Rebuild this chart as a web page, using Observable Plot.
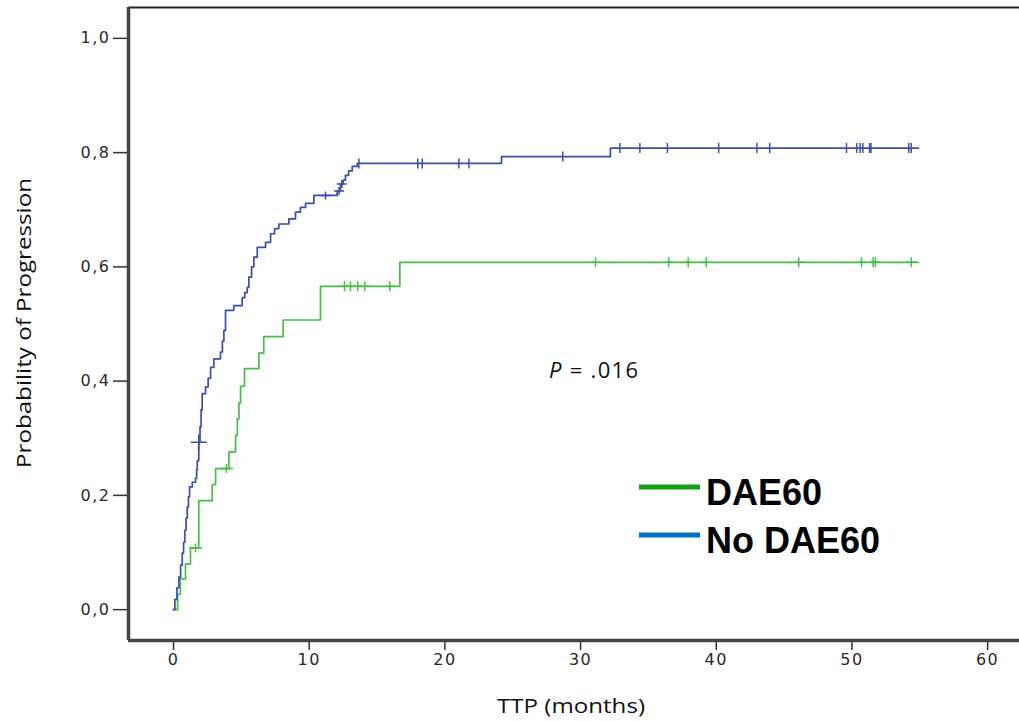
<!DOCTYPE html>
<html><head><meta charset="utf-8">
<script src="https://cdn.jsdelivr.net/npm/d3@7"></script>
<script src="https://cdn.jsdelivr.net/npm/@observablehq/plot@0.6"></script>
<style>
html,body{margin:0;padding:0;background:#fff;}
#wrap{position:relative;width:1019px;height:721px;overflow:hidden;}
#wrap svg{position:absolute;left:0;top:0;}
</style></head>
<body><div id="wrap"></div>
<script>
// ---- data ----
const xTicks = [0, 10, 20, 30, 40, 50, 60];
const yTicks = [0, 0.2, 0.4, 0.6, 0.8, 1.0];
const groups = ["DAE60", "No DAE60"];

// No DAE60 (blue) cumulative probability of progression, step-after
const blueTime = [0, 0.1, 0.25, 0.39, 0.52, 0.64, 0.74, 0.83, 0.92, 1.01, 1.1, 1.18, 1.38, 1.62, 1.7, 1.75, 1.86, 1.95, 2.03, 2.11, 2.36, 2.55, 2.73, 2.97, 3.46, 3.6, 3.71, 3.83, 4.44, 5.06, 5.25, 5.43, 5.55, 5.75, 5.92, 6.17, 6.78, 7.15, 7.45, 7.76, 8.5, 8.99, 9.35, 9.73, 10.34, 12.06, 12.3, 12.5, 12.67, 12.9, 13.17, 13.54, 24.17, 32.2, 54.9];
const blueProb = [0, 0.018, 0.038, 0.057, 0.078, 0.099, 0.118, 0.139, 0.160, 0.180, 0.198, 0.215, 0.223, 0.230, 0.245, 0.261, 0.293, 0.32, 0.35, 0.378, 0.39, 0.405, 0.424, 0.439, 0.451, 0.47, 0.489, 0.524, 0.532, 0.546, 0.555, 0.564, 0.582, 0.600, 0.617, 0.634, 0.643, 0.658, 0.667, 0.675, 0.684, 0.696, 0.704, 0.711, 0.725, 0.733, 0.745, 0.752, 0.760, 0.768, 0.776, 0.781, 0.793, 0.808, 0.808];

// DAE60 (green)
const greenTime = [0, 0.3, 0.5, 0.88, 1.25, 1.86, 2.85, 3.1, 4.08, 4.57, 4.7, 4.82, 4.94, 5.23, 6.29, 6.65, 8.08, 10.83, 16.68, 54.9];
const greenProb = [0, 0.027, 0.054, 0.080, 0.108, 0.191, 0.219, 0.247, 0.276, 0.305, 0.334, 0.362, 0.391, 0.422, 0.449, 0.478, 0.507, 0.566, 0.608, 0.608];

// censored observations
const blueCensorBigTime = [1.86];
const blueCensorBigProb = [0.293];
const blueCensorCrossTime = [11.2, 12.2, 12.4];
const blueCensorCrossProb = [0.725, 0.733, 0.745];
const blueCensorTickTime = [13.66, 18.0, 18.33, 21.03, 21.77, 28.69, 32.9, 34.37, 36.4, 40.18, 43.0, 43.94, 49.6, 50.35, 50.6, 50.8, 51.3, 51.4, 54.19, 54.37];
const blueCensorTickProb = [0.781, 0.781, 0.781, 0.781, 0.781, 0.793, 0.808, 0.808, 0.808, 0.808, 0.808, 0.808, 0.808, 0.808, 0.808, 0.808, 0.808, 0.808, 0.808, 0.808];
const greenCensorEarlyTime = [1.62, 3.9];
const greenCensorEarlyProb = [0.108, 0.247];
const greenCensorTime = [12.6, 13.04, 13.58, 14.1, 15.94, 31.1, 36.5, 37.93, 39.26, 46.08, 50.7, 51.56, 51.73, 54.38];
const greenCensorProb = [0.566, 0.566, 0.566, 0.566, 0.566, 0.608, 0.608, 0.608, 0.608, 0.608, 0.608, 0.608, 0.608, 0.608];

const pText = ".016";

// ---- build tables ----
const rows = (ts, ps, g) => ts.map((t, i) => ({t, p: ps[i], g}));
const blue = rows(blueTime, blueProb, groups[1]);
const green = rows(greenTime, greenProb, groups[0]);

const xDomain = [-3.32, 62.35];
const yDomain = [-0.054, 1.054];

const plusSym = (w, h) => ({draw(ctx) {
  if (w > 0) { ctx.moveTo(-w, 0); ctx.lineTo(w, 0); }
  ctx.moveTo(0, -h); ctx.lineTo(0, h);
}});

const BLUE = "#3b4fab", GREEN = "#48bd4c";
const fmt = d => d.toFixed(1).replace(".", ",");
const tickFont = {fontFamily: "DejaVu Sans", fontSize: 16, fill: "#2a2a2a"};

const chart = Plot.plot({
  width: 1019, height: 721,
  marginLeft: 128, marginRight: 0, marginTop: 7, marginBottom: 81,
  style: {fontFamily: "DejaVu Sans", background: "transparent"},
  x: {domain: xDomain},
  y: {domain: yDomain},
  marks: [
    Plot.axisX({ticks: xTicks, tickSize: 10, tickPadding: 3, label: null, tickFormat: d => String(d), stroke: "#333", strokeWidth: 1.5, ...tickFont}),
    Plot.axisY({ticks: yTicks, tickSize: 15, tickPadding: 3, label: null, tickFormat: fmt, stroke: "#333", strokeWidth: 1.5, ...tickFont}),
    Plot.ruleY([yDomain[1]], {stroke: "#222", strokeWidth: 2}),
    Plot.line(green, {x: "t", y: "p", curve: "step-after", stroke: GREEN, strokeWidth: 1.7}),
    Plot.line(blue, {x: "t", y: "p", curve: "step-after", stroke: BLUE, strokeWidth: 1.7}),
    Plot.dot(rows(greenCensorEarlyTime, greenCensorEarlyProb), {x: "t", y: "p", symbol: plusSym(6.5, 4.5), fill: "none", stroke: GREEN, strokeWidth: 1.5}),
    Plot.dot(rows(greenCensorTime, greenCensorProb), {x: "t", y: "p", symbol: plusSym(4.5, 5), fill: "none", stroke: GREEN, strokeWidth: 1.5}),
    Plot.dot(rows(blueCensorBigTime, blueCensorBigProb), {x: "t", y: "p", symbol: plusSym(8, 8), fill: "none", stroke: BLUE, strokeWidth: 1.5}),
    Plot.dot(rows(blueCensorCrossTime, blueCensorCrossProb), {x: "t", y: "p", symbol: plusSym(5, 4), fill: "none", stroke: BLUE, strokeWidth: 1.5}),
    Plot.dot(rows(blueCensorTickTime, blueCensorTickProb), {x: "t", y: "p", symbol: plusSym(0, 5), fill: "none", stroke: BLUE, strokeWidth: 1.5}),
    Plot.ruleX([xDomain[0]], {stroke: "#444", strokeWidth: 3.5}),
    Plot.ruleY([yDomain[0]], {stroke: "#444", strokeWidth: 3.5})
  ]
});
d3.select(chart).selectAll("text").attr("letter-spacing", "1.5px");
document.getElementById("wrap").appendChild(chart);

// ---- annotations, axis titles, legend ----
const ov = d3.select("#wrap").append("svg").attr("width", 1019).attr("height", 721)
  .style("pointer-events", "none");

ov.append("text").attr("x", 571).attr("y", 713).attr("text-anchor", "middle")
  .attr("font-family", "Open Sans").attr("font-size", 20).attr("fill", "#111")
  .attr("textLength", 148).attr("lengthAdjust", "spacingAndGlyphs")
  .text("TTP (months)");

ov.append("text").attr("transform", "translate(31,323) rotate(-90)").attr("text-anchor", "middle")
  .attr("font-family", "Open Sans").attr("font-size", 20).attr("fill", "#111")
  .attr("textLength", 290).attr("lengthAdjust", "spacingAndGlyphs")
  .text("Probability of Progression");

const pt = ov.append("text").attr("x", 549).attr("y", 378)
  .attr("font-family", "Open Sans").attr("font-size", 22).attr("fill", "#111")
  .attr("textLength", 89).attr("lengthAdjust", "spacing");
pt.append("tspan").attr("font-style", "italic").text("P");
pt.append("tspan").text(" = " + pText);

const legendColors = ["#159f17", "#0070c0"];
groups.forEach((g, i) => {
  const yy = 487 + i * 48;
  ov.append("line").attr("x1", 639).attr("x2", 700).attr("y1", yy).attr("y2", yy)
    .attr("stroke", legendColors[i]).attr("stroke-width", 5);
  ov.append("text").attr("x", 706).attr("y", 505 + i * 48)
    .attr("font-family", "Liberation Sans, Arial, sans-serif").attr("font-weight", "bold")
    .attr("font-size", 36).attr("fill", "#000").text(g);
});
</script>
</body></html>
